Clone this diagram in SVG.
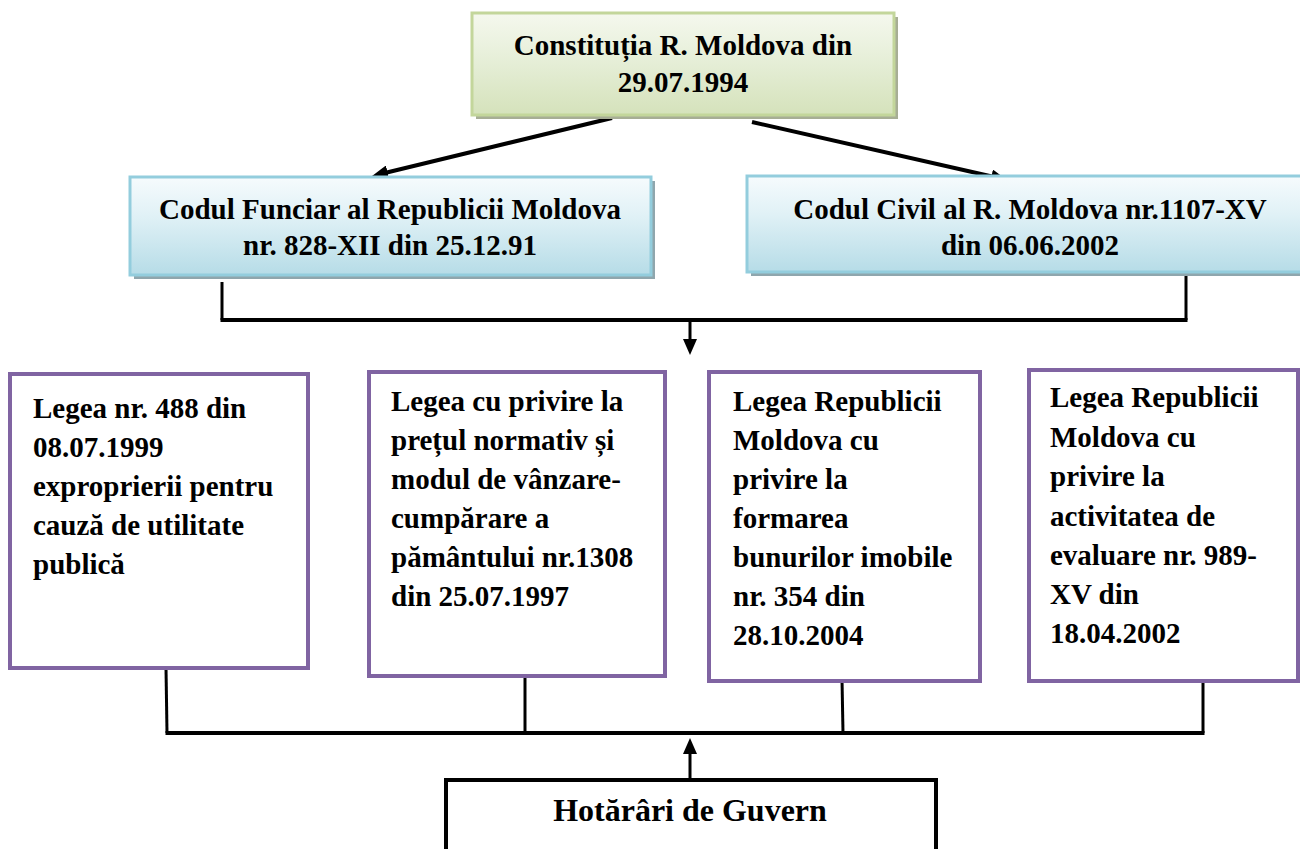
<svg xmlns="http://www.w3.org/2000/svg" width="1300" height="849" viewBox="0 0 1300 849">
<style>
.t{font-family:"Liberation Serif","Times New Roman",serif;font-weight:bold;font-size:29px;fill:#000}
.c{text-anchor:middle}
.big{font-size:32px}
.purple{fill:#fff;stroke:#8064a2;stroke-width:4}
.blue{fill:url(#gBlue);stroke:#93cddd;stroke-width:3}
.green{fill:url(#gGreen);stroke:#c3d69b;stroke-width:3}
.shB{fill:#8fa6ad}
.shG{fill:#a7ae95}
.ln{fill:none;stroke:#000;stroke-width:3}
.lnT{fill:none;stroke:#000;stroke-width:4}
</style>
<defs>
<linearGradient id="gBlue" x1="0" y1="0" x2="0" y2="1">
<stop offset="0" stop-color="#f6fbfd"/>
<stop offset="0.4" stop-color="#e0f1f6"/>
<stop offset="1" stop-color="#b6dce7"/>
</linearGradient>
<linearGradient id="gGreen" x1="0" y1="0" x2="0" y2="1">
<stop offset="0" stop-color="#f5f8ee"/>
<stop offset="0.4" stop-color="#e8f0db"/>
<stop offset="1" stop-color="#d5e2bb"/>
</linearGradient>
<marker id="ah" viewBox="0 0 16 14" refX="4" refY="7" markerWidth="16" markerHeight="14" markerUnits="userSpaceOnUse" orient="auto">
<path d="M0,0 L16,7 L0,14 z" fill="#000"/>
</marker>
</defs>

<g id="connectors">
<line class="lnT" x1="612" y1="118" x2="383.7" y2="173.2" marker-end="url(#ah)"/>
<line class="lnT" x1="752" y1="122" x2="995.3" y2="177.3" marker-end="url(#ah)"/>
<polyline class="ln" points="222,282 222,320"/>
<polyline class="ln" points="1186,276 1186,320"/>
<line class="lnT" x1="220.5" y1="320" x2="1187.5" y2="320"/>
<line class="ln" x1="690" y1="320" x2="690" y2="343" marker-end="url(#ah)"/>
<line class="ln" x1="166" y1="668" x2="167" y2="733"/>
<line class="ln" x1="525" y1="677" x2="525" y2="733"/>
<line class="ln" x1="842" y1="679" x2="843" y2="733"/>
<line class="ln" x1="1203" y1="679" x2="1203" y2="733"/>
<line class="lnT" x1="165.5" y1="733" x2="1204.5" y2="733"/>
<line class="ln" x1="690" y1="780" x2="690" y2="750" marker-end="url(#ah)"/>
</g>

<g id="constitutia">
<rect class="shG" x="476" y="17" width="422" height="102"/>
<rect class="green" x="472" y="13" width="422" height="102"/>
<text class="t c" x="683" y="55">Constituția R. Moldova din</text>
<text class="t c" x="683" y="92">29.07.1994</text>
</g>

<g id="codul-funciar">
<rect class="shB" x="134" y="181" width="521" height="98"/>
<rect class="blue" x="130" y="177" width="521" height="98"/>
<text class="t c" x="390" y="219">Codul Funciar al Republicii Moldova</text>
<text class="t c" x="390" y="255">nr. 828-XII din 25.12.91</text>
</g>

<g id="codul-civil">
<rect class="shB" x="751" y="180" width="566" height="96"/>
<rect class="blue" x="747" y="176" width="566" height="96"/>
<text class="t c" x="1030" y="219">Codul Civil al R. Moldova nr.1107-XV</text>
<text class="t c" x="1030" y="255">din 06.06.2002</text>
</g>

<g id="legea-488">
<rect class="purple" x="10" y="374" width="298" height="294"/>
<text class="t" x="33" y="418">Legea nr. 488 din</text>
<text class="t" x="33" y="457">08.07.1999</text>
<text class="t" x="33" y="496">exproprierii pentru</text>
<text class="t" x="33" y="535">cauză de utilitate</text>
<text class="t" x="33" y="574">publică</text>
</g>

<g id="legea-1308">
<rect class="purple" x="369" y="372" width="296" height="304"/>
<text class="t" x="391" y="411">Legea cu privire la</text>
<text class="t" x="391" y="450">prețul normativ și</text>
<text class="t" x="391" y="489">modul de vânzare-</text>
<text class="t" x="391" y="528">cumpărare a</text>
<text class="t" x="391" y="567">pământului nr.1308</text>
<text class="t" x="391" y="606">din 25.07.1997</text>
</g>

<g id="legea-354">
<rect class="purple" x="709" y="372" width="271" height="309"/>
<text class="t" x="733" y="411">Legea Republicii</text>
<text class="t" x="733" y="450">Moldova cu</text>
<text class="t" x="733" y="489">privire la</text>
<text class="t" x="733" y="528">formarea</text>
<text class="t" x="733" y="567">bunurilor imobile</text>
<text class="t" x="733" y="606">nr. 354 din</text>
<text class="t" x="733" y="645">28.10.2004</text>
</g>

<g id="legea-989">
<rect class="purple" x="1029" y="370" width="269" height="311"/>
<text class="t" x="1050" y="407">Legea Republicii</text>
<text class="t" x="1050" y="447">Moldova cu</text>
<text class="t" x="1050" y="486">privire la</text>
<text class="t" x="1050" y="526">activitatea de</text>
<text class="t" x="1050" y="565">evaluare nr. 989-</text>
<text class="t" x="1050" y="604">XV din</text>
<text class="t" x="1050" y="643">18.04.2002</text>
</g>

<g id="hotarari">
<rect x="446" y="780" width="490" height="90" fill="#fff" stroke="#000" stroke-width="4"/>
<text class="t c big" x="690" y="821">Hotărâri de Guvern</text>
</g>
</svg>
